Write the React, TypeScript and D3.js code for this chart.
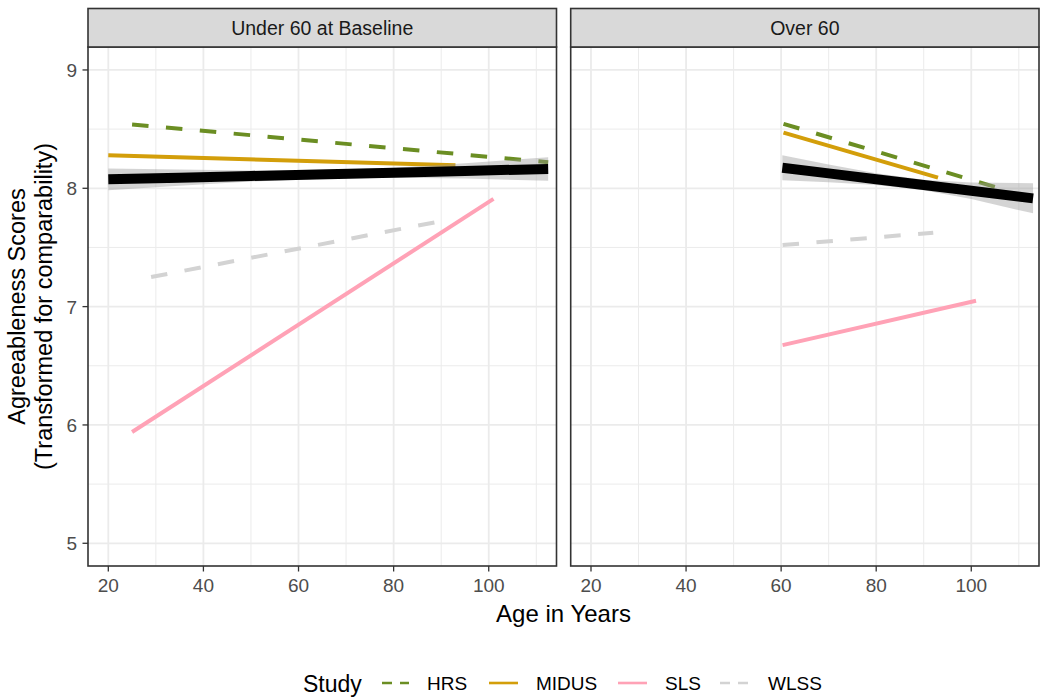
import React from "react";
import * as d3 from "d3";

const studies = ["HRS", "MIDUS", "SLS", "WLSS"];
const studyColors = ["#6B8E23", "#D39E0A", "#FFA2B6", "#D3D3D3"];
const studyDashed = [true, false, false, true];
const panelLabels = ["Under 60 at Baseline", "Over 60"];

const xTicks = [20, 40, 60, 80, 100];
const xMinor = [30, 50, 70, 90, 110];
const yTicks = [5, 6, 7, 8, 9];
const yMinor = [5.5, 6.5, 7.5, 8.5];

// Study-specific fitted lines: [start age, end age] and [start score, end score]
const under60Ages = [[25, 112.5], [20, 93], [25, 101], [29, 91]];
const under60Scores = [[8.54, 8.22], [8.28, 8.195], [5.94, 7.91], [7.25, 7.73]];
const over60Ages = [[60.5, 106], [60.5, 93], [60.3, 101], [60.3, 92]];
const over60Scores = [[8.545, 8.0], [8.47, 8.09], [6.675, 7.05], [7.52, 7.625]];

// Overall fit with confidence band
const under60OverallAges = [20, 35, 50, 66, 80, 95, 112.5];
const under60OverallFit = [8.076, 8.09, 8.104, 8.119, 8.132, 8.147, 8.163];
const under60OverallLo = [7.984, 8.022, 8.057, 8.083, 8.09, 8.082, 8.063];
const under60OverallHi = [8.168, 8.158, 8.151, 8.155, 8.174, 8.212, 8.263];

const over60OverallAges = [60.25, 70, 80, 90, 100, 113];
const over60OverallFit = [8.174, 8.126, 8.077, 8.028, 7.979, 7.915];
const over60OverallLo = [8.068, 8.051, 8.027, 7.983, 7.909, 7.788];
const over60OverallHi = [8.28, 8.201, 8.127, 8.073, 8.049, 8.042];

const FONT = "'Liberation Sans', Arial, Helvetica, sans-serif";

const panelsX = [
  [88, 556.5],
  [570.7, 1039],
];
const PY0 = 47;
const PY1 = 566;
const STRIP_TOP = 8.5;

const yScale = d3.scaleLinear().domain([4.808, 9.194]).range([PY1, PY0]);

const panelData = [
  {
    ages: under60Ages,
    scores: under60Scores,
    oAges: under60OverallAges,
    oFit: under60OverallFit,
    oLo: under60OverallLo,
    oHi: under60OverallHi,
  },
  {
    ages: over60Ages,
    scores: over60Scores,
    oAges: over60OverallAges,
    oFit: over60OverallFit,
    oLo: over60OverallLo,
    oHi: over60OverallHi,
  },
];

const legendTitleX = 303;
const legendKeys = [
  [382, 409, 427],
  [489, 518, 536],
  [618, 647, 665],
  [720, 749, 768],
];

function Panel({ idx }: { idx: number }) {
  const [x0, x1] = panelsX[idx];
  const xScale = d3.scaleLinear().domain([15.73, 114.25]).range([x0, x1]);
  const pd = panelData[idx];
  const line = d3
    .line<[number, number]>()
    .x((d) => xScale(d[0]))
    .y((d) => yScale(d[1]));
  const area = d3
    .area<number>()
    .x((_, i) => xScale(pd.oAges[i]))
    .y0((_, i) => yScale(pd.oLo[i]))
    .y1((_, i) => yScale(pd.oHi[i]));
  const clipId = `clip-${idx}`;
  return (
    <g>
      <defs>
        <clipPath id={clipId}>
          <rect x={x0} y={PY0} width={x1 - x0} height={PY1 - PY0} />
        </clipPath>
      </defs>
      <rect x={x0} y={PY0} width={x1 - x0} height={PY1 - PY0} fill="#FFFFFF" />
      {xMinor.map((v) => (
        <line key={"xm" + v} x1={xScale(v)} x2={xScale(v)} y1={PY0} y2={PY1} stroke="#EBEBEB" strokeWidth={1} />
      ))}
      {yMinor.map((v) => (
        <line key={"ym" + v} x1={x0} x2={x1} y1={yScale(v)} y2={yScale(v)} stroke="#EBEBEB" strokeWidth={1} />
      ))}
      {xTicks.map((v) => (
        <line key={"xg" + v} x1={xScale(v)} x2={xScale(v)} y1={PY0} y2={PY1} stroke="#EBEBEB" strokeWidth={1.8} />
      ))}
      {yTicks.map((v) => (
        <line key={"yg" + v} x1={x0} x2={x1} y1={yScale(v)} y2={yScale(v)} stroke="#EBEBEB" strokeWidth={1.8} />
      ))}
      <g clipPath={`url(#${clipId})`}>
        {studies.map((s, i) => {
          const pts: [number, number][] = pd.ages[i].map((a, j) => [a, pd.scores[i][j]]);
          return (
            <path
              key={s}
              d={line(pts) || ""}
              fill="none"
              stroke={studyColors[i]}
              strokeWidth={4}
              strokeDasharray={studyDashed[i] ? "16.5 17.5" : undefined}
            />
          );
        })}
        <path d={area(pd.oAges) || ""} fill="#999999" fillOpacity={0.42} stroke="none" />
        <path
          d={line(pd.oAges.map((a, i) => [a, pd.oFit[i]] as [number, number])) || ""}
          fill="none"
          stroke="#000000"
          strokeWidth={10}
        />
      </g>
      <rect x={x0} y={PY0} width={x1 - x0} height={PY1 - PY0} fill="none" stroke="#333333" strokeWidth={1.6} />
      {/* strip */}
      <rect
        x={x0}
        y={STRIP_TOP}
        width={x1 - x0}
        height={PY0 - STRIP_TOP}
        fill="#D9D9D9"
        stroke="#333333"
        strokeWidth={1.6}
      />
      <text
        x={(x0 + x1) / 2}
        y={35}
        textAnchor="middle"
        fontFamily={FONT}
        fontSize={19.5}
        fill="#1A1A1A"
      >
        {panelLabels[idx]}
      </text>
      {/* x axis */}
      {xTicks.map((v) => (
        <g key={"xt" + v}>
          <line x1={xScale(v)} x2={xScale(v)} y1={PY1} y2={PY1 + 5.5} stroke="#333333" strokeWidth={1.3} />
          <text x={xScale(v)} y={592} textAnchor="middle" fontFamily={FONT} fontSize={19} fill="#4D4D4D">
            {v}
          </text>
        </g>
      ))}
      {idx === 0 &&
        yTicks.map((v) => (
          <g key={"yt" + v}>
            <line x1={x0 - 5.5} x2={x0} y1={yScale(v)} y2={yScale(v)} stroke="#333333" strokeWidth={1.3} />
            <text
              x={x0 - 11}
              y={yScale(v) + 7}
              textAnchor="end"
              fontFamily={FONT}
              fontSize={19}
              fill="#4D4D4D"
            >
              {v}
            </text>
          </g>
        ))}
    </g>
  );
}

export default function App() {
  const legendY = 683;
  const yMid = (PY0 + PY1) / 2;
  return (
    <svg
      width={1050}
      height={700}
      style={{ position: "absolute", left: 0, top: 0, background: "#FFFFFF" }}
      xmlns="http://www.w3.org/2000/svg"
    >
      <rect x={0} y={0} width={1050} height={700} fill="#FFFFFF" />
      <Panel idx={0} />
      <Panel idx={1} />
      {/* axis titles */}
      <text
        x={(panelsX[0][0] + panelsX[1][1]) / 2}
        y={622}
        textAnchor="middle"
        fontFamily={FONT}
        fontSize={24}
        fill="#000000"
      >
        Age in Years
      </text>
      <text
        transform={`translate(25,${yMid}) rotate(-90)`}
        textAnchor="middle"
        fontFamily={FONT}
        fontSize={23.5}
        fill="#000000"
      >
        Agreeableness Scores
      </text>
      <text
        transform={`translate(52,${yMid}) rotate(-90)`}
        textAnchor="middle"
        fontFamily={FONT}
        fontSize={23.5}
        fill="#000000"
      >
        (Transformed for comparability)
      </text>
      {/* legend */}
      <text x={legendTitleX} y={692} fontFamily={FONT} fontSize={23} fill="#000000">
        Study
      </text>
      {studies.map((s, i) => (
        <g key={"lg" + s}>
          <line
            x1={legendKeys[i][0]}
            x2={legendKeys[i][1]}
            y1={legendY}
            y2={legendY}
            stroke={studyColors[i]}
            strokeWidth={2.6}
            strokeDasharray={studyDashed[i] ? "10 8" : undefined}
          />
          <text x={legendKeys[i][2]} y={690} fontFamily={FONT} fontSize={19} fill="#000000">
            {s}
          </text>
        </g>
      ))}
    </svg>
  );
}
